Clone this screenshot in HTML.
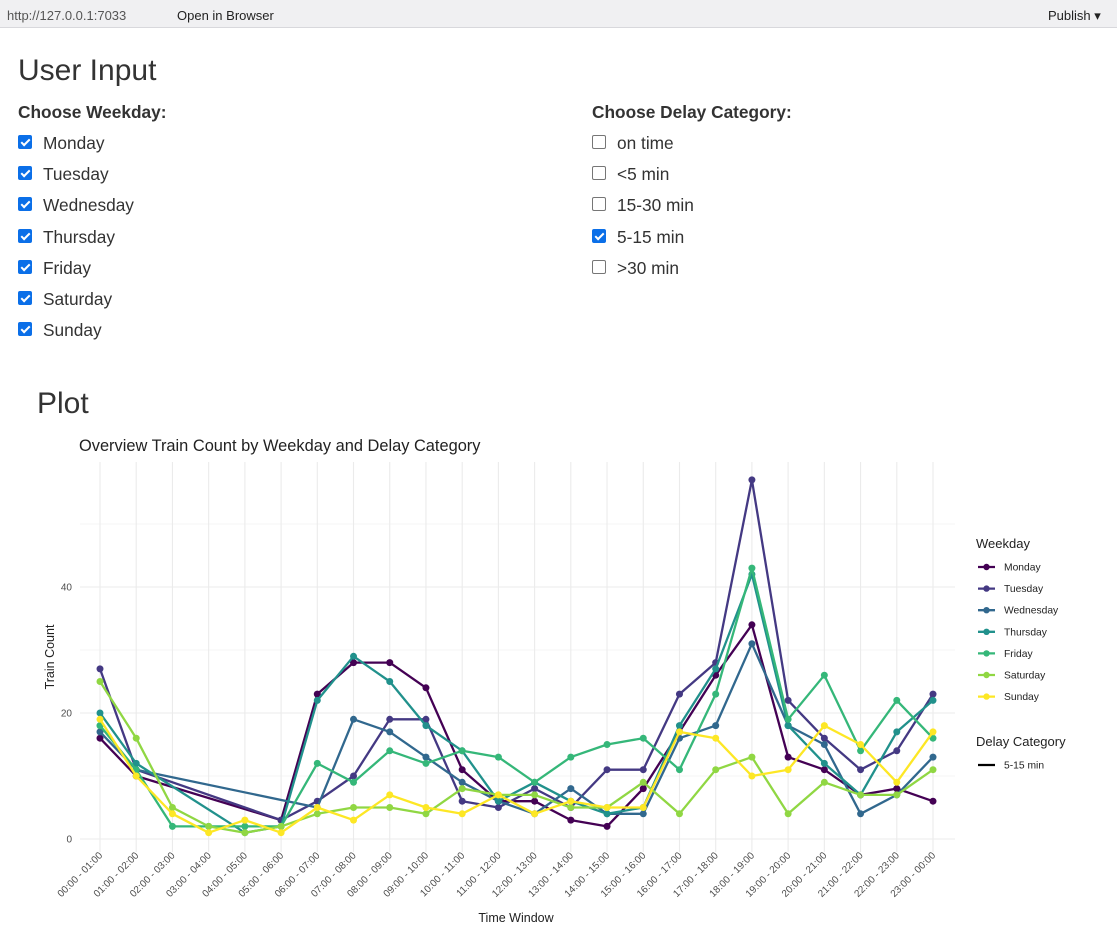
<!DOCTYPE html>
<html><head><meta charset="utf-8"><style>
body{margin:0;width:1117px;height:946px;background:#fff;font-family:"Liberation Sans",sans-serif;color:#333;overflow:hidden;position:relative}
.topbar{position:absolute;left:0;top:0;width:1117px;height:27px;background:#f0f0f2;border-bottom:1px solid #d8d8dc;font-size:13px;color:#222}
.topbar span{position:absolute;top:8px}
h2{position:absolute;margin:0;font-weight:400;font-size:30px;color:#333}
.lbl{position:absolute;font-weight:700;font-size:17.3px;color:#333}
.cb{position:absolute;font-size:17.3px;color:#333;height:20px;line-height:20px}
.cb i{position:absolute;left:0;top:2px;width:14px;height:14px;border-radius:2px;border:1px solid #767676;background:#fff;box-sizing:border-box}
.cb i.on{background:#0b6fe8;border-color:#0b6fe8}
.cb i.on:after{content:"";position:absolute;left:4px;top:1px;width:3px;height:7px;border:solid #fff;border-width:0 2px 2px 0;transform:rotate(45deg)}
.cb span{position:absolute;left:25px;top:0;white-space:nowrap}
</style></head><body>
<div class="topbar">
<span style="left:7px;color:#555">http://127.0.0.1:7033</span>
<span style="left:177px">Open in Browser</span>
<span style="left:1048px">Publish ▾</span>
</div>
<h2 style="left:18px;top:54px">User Input</h2>
<div class="lbl" style="left:18px;top:102px">Choose Weekday:</div>
<div class="lbl" style="left:592px;top:102px">Choose Delay Category:</div>
<div id="cbs"></div>
<h2 style="left:37px;top:387px">Plot</h2>
<svg id="chart" width="1117" height="946" style="position:absolute;left:0;top:0"></svg>
<script>
const weekdays=["Monday","Tuesday","Wednesday","Thursday","Friday","Saturday","Sunday"];
const delays=[["on time",false],["<5 min",false],["15-30 min",false],["5-15 min",true],[">30 min",false]];
const cbs=document.getElementById('cbs');
weekdays.forEach((d,i)=>{const e=document.createElement('div');e.className='cb';e.style.left='18px';e.style.top=(133+i*31.2)+'px';e.innerHTML='<i class="on"></i><span>'+d+'</span>';


cbs.appendChild(e);});
delays.forEach((d,i)=>{const e=document.createElement('div');e.className='cb';e.style.left='592px';e.style.top=(133+i*31.2)+'px';e.innerHTML='<i class="'+(d[1]?'on':'')+'"></i><span></span>';e.querySelector('span').textContent=d[0];


cbs.appendChild(e);});

const categories=["00:00 - 01:00","01:00 - 02:00","02:00 - 03:00","03:00 - 04:00","04:00 - 05:00","05:00 - 06:00","06:00 - 07:00","07:00 - 08:00","08:00 - 09:00","09:00 - 10:00","10:00 - 11:00","11:00 - 12:00","12:00 - 13:00","13:00 - 14:00","14:00 - 15:00","15:00 - 16:00","16:00 - 17:00","17:00 - 18:00","18:00 - 19:00","19:00 - 20:00","20:00 - 21:00","21:00 - 22:00","22:00 - 23:00","23:00 - 00:00"];
const monday=[16,10,null,null,null,3,23,28,28,24,11,6,6,3,2,8,17,26,34,13,11,7,8,6];
const tuesday=[27,11,null,null,null,3,6,10,19,19,6,5,8,5,11,11,23,28,57,22,16,11,14,23];
const wednesday=[17,11,null,null,null,null,5,19,17,13,9,6,4,8,4,4,16,18,31,18,15,4,7,13];
const thursday=[20,12,null,null,1,2,22,29,25,18,14,6,9,6,4,5,18,27,42,18,12,7,17,22];
const friday=[18,11,2,2,2,2,12,9,14,12,14,13,9,13,15,16,11,23,43,19,26,14,22,16];
const saturday=[25,16,5,2,1,2,4,5,5,4,8,7,7,5,5,9,4,11,13,4,9,7,7,11];
const sunday=[19,10,4,1,3,1,5,3,7,5,4,7,4,6,5,5,17,16,10,11,18,15,9,17];
const yTicks=[0,20,40];
const series=[monday,tuesday,wednesday,thursday,friday,saturday,sunday];
const colors=["#440154","#443983","#31688e","#21918c","#35b779","#90d743","#fde725"];

const NS="http://www.w3.org/2000/svg",svg=document.getElementById('chart');
function mk(t,a,p){const e=document.createElementNS(NS,t);for(const k in a)e.setAttribute(k,a[k]);(p||svg).appendChild(e);return e;}
const X=i=>100+i*(933-100)/(categories.length-1);
const Y=v=>839-v*6.3;
const L=80,R=955,T=462;
for(let v=0;v<=55;v+=10){const g=mk('line',{x1:L,x2:R,y1:Y(v),y2:Y(v),stroke:'#ebebeb','stroke-width':v%20==0?1.1:0.6});

}
categories.forEach((c,i)=>{const g=mk('line',{x1:X(i),x2:X(i),y1:T,y2:852,stroke:'#ebebeb','stroke-width':1.1});


const t=mk('text',{x:X(i)+3,y:856,'text-anchor':'end','font-size':10,fill:'#4d4d4d',transform:`rotate(-45 ${X(i)+3} 856)`});t.textContent=c;

});
yTicks.forEach(v=>{const t=mk('text',{x:72,y:Y(v)+3.5,'text-anchor':'end','font-size':10,fill:'#4d4d4d'});t.textContent=v;

});
series.forEach((s,k)=>{const g=mk('g',{});


const pts=s.map((v,i)=>v==null?null:[X(i),Y(v)]).filter(p=>p);
mk('polyline',{points:pts.map(p=>p.join(',')).join(' '),fill:'none',stroke:colors[k],'stroke-width':2.3,'stroke-linejoin':'round'},g);
pts.forEach(p=>{const c=mk('circle',{cx:p[0],cy:p[1],r:3.5,fill:colors[k]},g);

});});
function txt(s,a,name){const t=mk('text',a);t.textContent=s;

return t;}
txt("Overview Train Count by Weekday and Delay Category",{x:79,y:451,'font-size':16.4,fill:'#222'},'chart-title');
txt("Time Window",{x:516,y:922,'font-size':12.5,'text-anchor':'middle',fill:'#222'},'x-axis-title');
txt("Train Count",{x:54,y:657,'font-size':12.5,'text-anchor':'middle',fill:'#222',transform:'rotate(-90 54 657)'},'y-axis-title');
txt("Weekday",{x:976,y:548,'font-size':13,fill:'#222'},'legend-title-weekday');
weekdays.forEach((d,k)=>{const y=567+k*21.6;const g=mk('g',{});


mk('line',{x1:978,x2:995,y1:y,y2:y,stroke:colors[k],'stroke-width':2.3},g);
mk('circle',{cx:986.5,cy:y,r:3.2,fill:colors[k]},g);
const t=mk('text',{x:1004,y:y+3.5,'font-size':10.3,fill:'#222'},g);t.textContent=d;});
txt("Delay Category",{x:976,y:746,'font-size':13,fill:'#222'},'legend-title-delay');
const lg=mk('g',{});


mk('line',{x1:978,x2:995,y1:765,y2:765,stroke:'#000','stroke-width':2.3},lg);
const lt=mk('text',{x:1004,y:768.5,'font-size':10.3,fill:'#222'},lg);lt.textContent="5-15 min";
</script>
</body></html>
